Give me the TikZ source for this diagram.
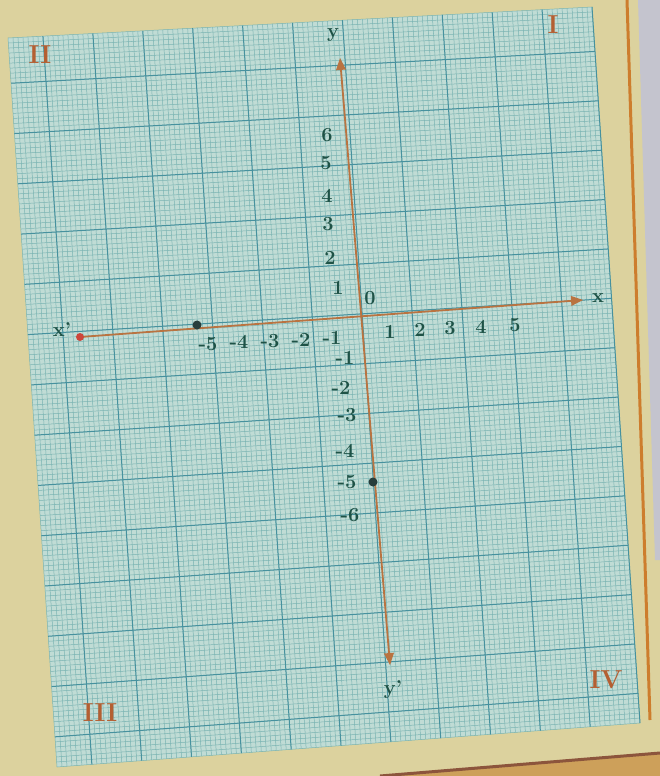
\documentclass[tikz,border=0pt]{standalone}
\usepackage{tikz}
\usetikzlibrary{calc,arrows}
\definecolor{deskbeige}{RGB}{220,210,158}
\definecolor{deskgrey}{RGB}{196,196,206}
\definecolor{edgeorange}{RGB}{205,125,45}
\definecolor{edgebrown}{RGB}{140,85,60}
\definecolor{bandtan}{RGB}{205,160,90}
\definecolor{paper}{RGB}{192,220,213}
\definecolor{minorline}{RGB}{122,180,178}
\definecolor{majorline}{RGB}{70,145,158}
\definecolor{axisbrown}{RGB}{185,115,65}
\definecolor{arrowred}{RGB}{205,70,60}
\definecolor{inkgreen}{RGB}{30,82,70}
\definecolor{inkorange}{RGB}{180,95,50}
\definecolor{dotink}{RGB}{40,62,60}

\begin{document}
\begin{tikzpicture}[x=1pt,y=-1pt,>=triangle 45,
  minor/.style={minorline,line width=0.5pt},
  major/.style={majorline,line width=1pt},
  axis/.style={axisbrown,line width=1.8pt},
  num/.style={inkgreen,font=\fontsize{20}{20}\selectfont\bfseries,inner sep=0pt},
  quad/.style={inkorange,font=\fontsize{26}{26}\selectfont\bfseries,inner sep=0pt},
  dot/.style={circle,fill=#1,inner sep=0pt,minimum size=9pt},
  dot/.default=dotink]
\useasboundingbox (0,0) rectangle (660,776);
% desk and edges of the book
\fill[deskbeige] (0,0) rectangle (660,776);
\fill[deskgrey] (638,0) -- (660,0) -- (660,560) -- (655,560) -- cycle;
\draw[edgeorange,line width=3pt] (627,0) -- (650,720);
\fill[bandtan] (380,776) -- (660,753) -- (660,776) -- cycle;
\draw[edgebrown,line width=3pt] (380,776) -- (660,753);
% graph paper
\coordinate (TL) at (8,38);
\coordinate (TR) at (592,7);
\coordinate (BL) at (57,767);
\coordinate (BR) at (640,723);
\fill[paper] (TL) -- (TR) -- (BR) -- (BL) -- cycle;
\foreach \i in {0,...,117}
  \draw[minor] ($(TL)!\i/117!(TR)$) -- ($(BL)!\i/117!(BR)$);
\foreach \i in {0,...,145}
  \draw[minor] ($(TL)!\i/145!(BL)$) -- ($(TR)!\i/145!(BR)$);
\foreach \i in {7,17,...,117}
  \draw[major] ($(TL)!\i/117!(TR)$) -- ($(BL)!\i/117!(BR)$);
\foreach \i in {9,19,...,139}
  \draw[major] ($(TL)!\i/145!(BL)$) -- ($(TR)!\i/145!(BR)$);
% axes
\coordinate (xneg) at (80,337);
\coordinate (xpos) at (583,300);
\coordinate (ytop) at (340,58);
\coordinate (ybot) at (390,665);
\draw[axis,->] (xneg) -- (xpos);
\draw[axis,<->] (ybot) -- (ytop);
\node[dot=arrowred,minimum size=8pt] (xend) at (xneg) {};
\node[num] (xlab) at (598,298) {x};
\node[num] (xlab') at (62,330) {x'};
\node[num] (ylab) at (333,35) {y};
\node[num] (ylab') at (393,690) {y'};
\node[num] (orig) at (370,298) {0};
% scale marks
\foreach \t/\px/\py in {6/327/135,5/326/163,4/327/196,3/328/224,2/330/258,1/338/288}
  \node[num] (yp\t) at (\px,\py) {\t};
\foreach \t/\px/\py in {1/345/358,2/341/388,3/347/415,4/345/451,5/347/482,6/350/515}
  \node[num] (yn\t) at (\px,\py) {-\t};
\foreach \t/\px/\py in {1/390/332,2/420/330,3/450/328,4/481/327,5/515/325}
  \node[num] (xp\t) at (\px,\py) {\t};
\foreach \t/\px/\py in {5/208/344,4/239/342,3/270/341,2/301/340,1/332/338}
  \node[num] (xn\t) at (\px,\py) {-\t};
\node[dot] (pxa) at (197,325) {};
\node[dot] (pya) at (373,482) {};
% quadrants
\node[quad] (q1) at (553,25) {I};
\node[quad] (q2) at (40,55) {II};
\node[quad] (q3) at (100,713) {III};
\node[quad] (q4) at (606,680) {IV};
\end{tikzpicture}
\end{document}
